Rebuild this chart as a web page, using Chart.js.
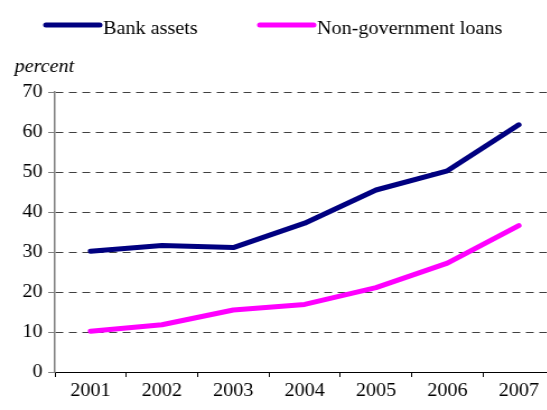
<!DOCTYPE html>
<html>
<head>
<meta charset="utf-8">
<script src="https://cdn.jsdelivr.net/npm/chart.js@4/dist/chart.umd.min.js"></script>
<style>
    html, body { margin:0; padding:0; background:#ffffff; overflow:hidden; }
    #wrap { width:500px; height:410px; transform:scaleX(1.12); transform-origin:0 0; }
    canvas { display:block; }
</style>
</head>
<body>
<div id="wrap">
    <canvas id="bankChart" width="500" height="410" style="width:500px;height:410px"></canvas>
</div>
<script>

// ==========================================
// Bank assets vs non-government loans
// ==========================================

const years = ["2001", "2002", "2003", "2004", "2005", "2006", "2007"];

const bankAssets = [30.2, 31.6, 31.1, 37.2, 45.5, 50.3, 61.8];

const nonGovLoans = [10.2, 11.8, 15.5, 16.9, 21.1, 27.2, 36.6];

const yTicks = [0, 10, 20, 30, 40, 50, 60, 70];

const FONT = "'Liberation Serif', 'Times New Roman', serif";

// =====================================
// Legend row + "percent" caption
// =====================================

const headerPlugin = {

    id:"header",

    afterDraw(chart){

        const ctx = chart.ctx;

        const spots = [

            { lineX:41, textX:92 },

            { lineX:232, textX:283 }

        ];

        ctx.save();

        chart.data.datasets.forEach((ds, i) => {

            const s = spots[i];

            ctx.strokeStyle = ds.borderColor;
            ctx.lineWidth = 5;
            ctx.lineCap = "round";

            ctx.beginPath();
            ctx.moveTo(s.lineX, 25);
            ctx.lineTo(s.lineX + 48, 25);
            ctx.stroke();

            ctx.fillStyle = "#000000";
            ctx.font = "18px " + FONT;
            ctx.textBaseline = "alphabetic";
            ctx.textAlign = "left";
            ctx.fillText(ds.label, s.textX, 34);

        });

        ctx.font = "italic 18px " + FONT;
        ctx.fillText("percent", 13, 72);

        ctx.restore();

    }

};

new Chart(

    document.getElementById("bankChart"),

    {

        type:"line",

        data:{

            labels:years,

            datasets:[

                {
                    label:"Bank assets",
                    data:bankAssets,
                    borderColor:"#000080",
                    backgroundColor:"#000080",
                    borderWidth:5,
                    pointRadius:0,
                    tension:0,
                    borderJoinStyle:"round",
                    borderCapStyle:"round"
                },

                {
                    label:"Non-government loans",
                    data:nonGovLoans,
                    borderColor:"#FF00FF",
                    backgroundColor:"#FF00FF",
                    borderWidth:5,
                    pointRadius:0,
                    tension:0,
                    borderJoinStyle:"round",
                    borderCapStyle:"round"
                }

            ]

        },

        options:{

            responsive:false,

            animation:false,

            layout:{
                padding:{ top:92, right:5, left:0, bottom:0 }
            },

            plugins:{
                legend:{ display:false },
                tooltip:{ enabled:false }
            },

            scales:{

                x:{

                    offset:true,

                    afterFit(scale){ scale.height = 38; },

                    grid:{
                        offset:true,
                        drawOnChartArea:false,
                        tickLength:5,
                        tickColor:"#000000",
                        tickBorderDash:[]
                    },

                    border:{ color:"#000000", width:1 },

                    ticks:{
                        color:"#000000",
                        padding:3,
                        maxRotation:0,
                        font:{ family:FONT, size:18 }
                    }

                },

                y:{

                    min:yTicks[0],

                    max:yTicks[yTicks.length - 1],

                    afterFit(scale){ scale.width = 49; },

                    afterBuildTicks(scale){
                        scale.ticks = yTicks.map(v => ({ value:v }));
                    },

                    grid:{
                        color:"#404040",
                        lineWidth:1,
                        tickLength:6,
                        tickColor:"#808080",
                        tickBorderDash:[]
                    },

                    border:{ color:"#808080", width:1.5, dash:[7, 5] },

                    ticks:{
                        color:"#000000",
                        padding:5,
                        font:{ family:FONT, size:18 }
                    }

                }

            }

        },

        plugins:[headerPlugin]

    }

);

</script>
</body>
</html>
